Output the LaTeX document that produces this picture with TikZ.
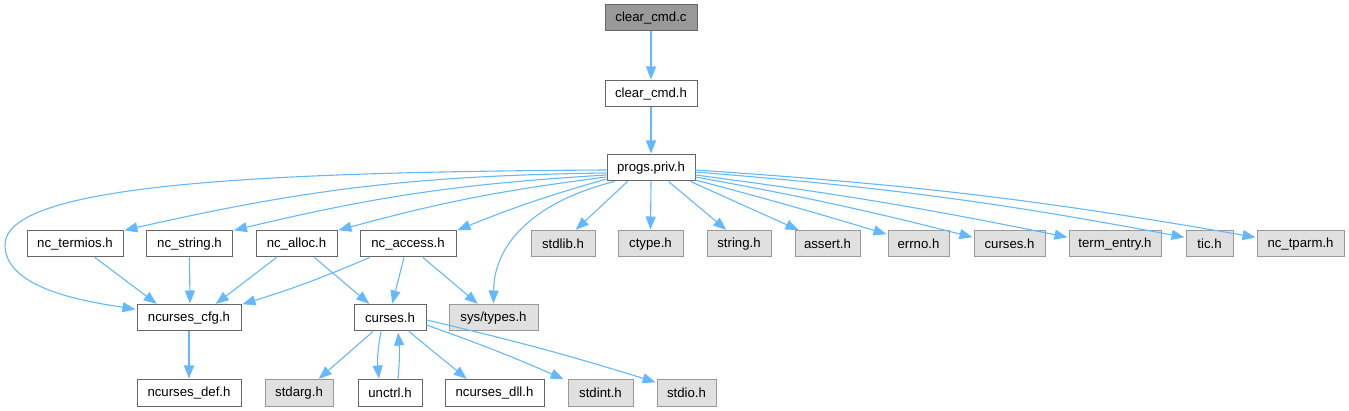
\documentclass[tikz,border=0pt]{standalone}
\usepackage{fontspec}
\setmainfont{Liberation Sans}
\usetikzlibrary{arrows.meta}
\definecolor{edgeblue}{RGB}{99,184,255}
\definecolor{boxline}{RGB}{102,102,102}
\definecolor{sysfill}{RGB}{224,224,224}
\definecolor{sysline}{RGB}{153,153,153}
\definecolor{rootfill}{RGB}{153,153,153}

\begin{document}
\begin{tikzpicture}[x=1pt, y=-1pt,
    hdrbox/.style={draw=boxline, fill=white, line width=1pt, minimum height=26pt, inner sep=0pt,
      font=\fontsize{13.2}{16}\selectfont},
    sysbox/.style={hdrbox, draw=sysline, fill=sysfill},
    rootbox/.style={hdrbox, fill=rootfill},
    incl/.style={draw=edgeblue, line width=1.1pt, shorten >=1pt, -{Triangle[length=13pt,width=10pt]}}]
    \useasboundingbox (0,0) rectangle (1349,411);

    %% top of the graph
    \node[rootbox, minimum width=92pt] (cmdc) at (651,18) {clear\_cmd.c};
    \node[hdrbox, minimum width=92pt] (cmdh) at (651,94) {clear\_cmd.h};
    \node[hdrbox, minimum width=88pt] (progs) at (651,168) {progs.priv.h};

    %% headers included by progs.priv.h
    \node[hdrbox, minimum width=96pt] (termios) at (75,244) {nc\_termios.h};
    \node[hdrbox, minimum width=86pt] (ncstring) at (189.5,244) {nc\_string.h};
    \node[hdrbox, minimum width=81pt] (alloc) at (296.5,244) {nc\_alloc.h};
    \node[hdrbox, minimum width=96pt] (access) at (408,244) {nc\_access.h};
    \node[sysbox, minimum width=64pt] (stdlib) at (563,244) {stdlib.h};
    \node[sysbox, minimum width=65pt] (ctype) at (650.5,244) {ctype.h};
    \node[sysbox, minimum width=64pt] (strh) at (739,244) {string.h};
    \node[sysbox, minimum width=65pt] (assert) at (827.5,244) {assert.h};
    \node[sysbox, minimum width=61pt] (errno) at (918.5,244) {errno.h};
    \node[sysbox, minimum width=71pt] (cursestop) at (1009.5,244) {curses.h};
    \node[sysbox, minimum width=92pt] (termentry) at (1115,244) {term\_entry.h};
    \node[sysbox, minimum width=47pt] (tic) at (1209.5,244) {tic.h};
    \node[sysbox, minimum width=87pt] (tparm) at (1300.5,244) {nc\_tparm.h};

    %% second level
    \node[hdrbox, minimum width=104pt] (cfg) at (189,318) {ncurses\_cfg.h};
    \node[hdrbox, minimum width=72pt] (curses) at (390,318) {curses.h};
    \node[sysbox, minimum width=89pt] (systypes) at (493.5,318) {sys/types.h};

    %% bottom row
    \node[hdrbox, minimum width=104pt] (def) at (189,393) {ncurses\_def.h};
    \node[sysbox, minimum width=68pt] (stdarg) at (299,393) {stdarg.h};
    \node[hdrbox, minimum width=64pt] (unctrl) at (390,393) {unctrl.h};
    \node[hdrbox, minimum width=99pt] (dll) at (494.5,393) {ncurses\_dll.h};
    \node[sysbox, minimum width=65pt] (stdint) at (600.5,393) {stdint.h};
    \node[sysbox, minimum width=59pt] (stdio) at (686.5,393) {stdio.h};

    %% include edges
    \draw[incl] (cmdc) -- (cmdh);
    \draw[incl] (cmdh) -- (progs);

    \draw[incl] ([yshift=-2pt]progs.west) .. controls (250,172) and (5,185) .. (5,245)
        .. controls (5,290) and (90,302) .. ([yshift=-5pt]cfg.north west);
    \draw[incl] ([yshift=-5pt]progs.west) to[bend right=6] (termios.north east);
    \draw[incl] ([yshift=-7pt]progs.west) to[bend right=5] (ncstring.north east);
    \draw[incl] ([yshift=-9pt]progs.west) to[bend right=4] (alloc.north east);
    \draw[incl] ([yshift=-11pt]progs.west) to[bend right=3] (access.north east);
    \draw[incl] ([xshift=8pt]progs.south west) .. controls (540,200) and (494,240) .. (systypes.north);
    \draw[incl] ([xshift=21pt]progs.south west) -- ([xshift=12pt]stdlib.north);
    \draw[incl] (progs.south) -- (ctype.north);
    \draw[incl] ([xshift=-27pt]progs.south east) -- ([xshift=-12pt]strh.north);
    \draw[incl] ([xshift=-5pt]progs.south east) -- ([xshift=5pt]assert.north west);
    \draw[incl] ([yshift=-12pt]progs.east) to[bend left=1] ([yshift=-4pt]errno.north west);
    \draw[incl] ([yshift=-9pt]progs.east) to[bend left=2] ([yshift=-7pt]cursestop.north west);
    \draw[incl] ([yshift=-7pt]progs.east) to[bend left=2] ([yshift=-7pt]termentry.north west);
    \draw[incl] ([yshift=-4pt]progs.east) to[bend left=3] ([yshift=-7pt]tic.north west);
    \draw[incl] ([yshift=-2pt]progs.east) to[bend left=3] ([yshift=-7pt]tparm.north west);

    \draw[incl] ([xshift=20pt]termios.south) -- ([xshift=21pt]cfg.north west);
    \draw[incl] (ncstring.south) -- ([xshift=1pt]cfg.north);
    \draw[incl] ([xshift=-20pt]alloc.south) -- ([xshift=26pt]cfg.north);
    \draw[incl] ([xshift=18pt]alloc.south) -- ([xshift=-20pt]curses.north);
    \draw[incl] ([xshift=10pt]access.south west) to[bend left=3] (cfg.north east);
    \draw[incl] ([xshift=-4pt]access.south) -- ([xshift=2pt]curses.north);
    \draw[incl] ([xshift=15pt]access.south) -- ([xshift=-15pt]systypes.north);

    \draw[incl] (cfg) -- (def);
    \draw[incl] ([xshift=-17pt]curses.south) -- ([xshift=19pt]stdarg.north);
    \draw[incl] ([xshift=-9pt]curses.south) to[bend right=8] ([xshift=-11pt]unctrl.north);
    \draw[incl] ([xshift=8pt]unctrl.north) to[bend right=5] ([xshift=8pt]curses.south);
    \draw[incl] ([xshift=19pt]curses.south) -- ([xshift=-27pt]dll.north);
    \draw[incl] ([yshift=-7pt]curses.east) to[bend left=2] ([xshift=-3pt]stdint.north west);
    \draw[incl] ([yshift=-2pt]curses.east) to[bend left=2] ([yshift=-3pt]stdio.north west);
\end{tikzpicture}
\end{document}
